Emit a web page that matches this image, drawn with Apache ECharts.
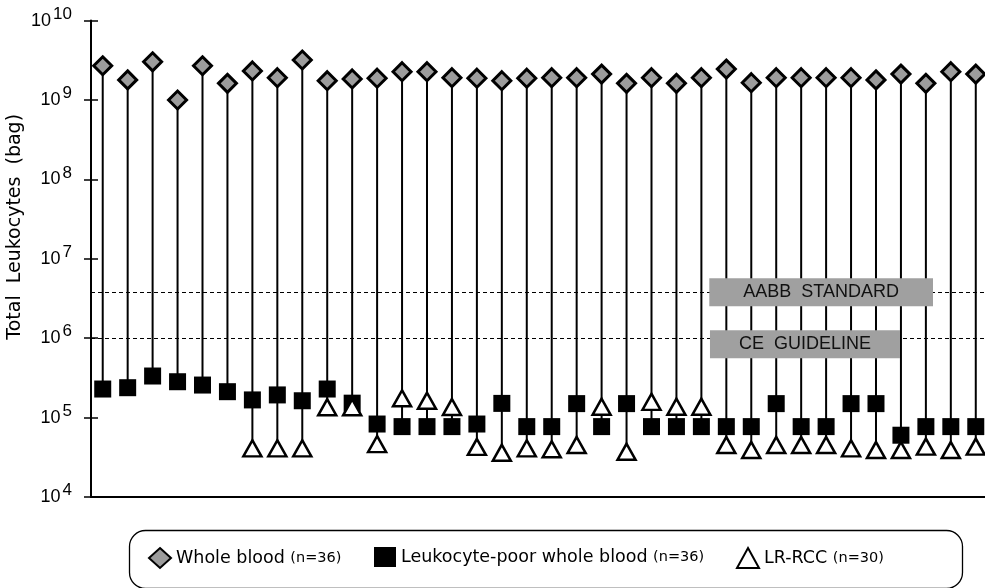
<!DOCTYPE html>
<html><head><meta charset="utf-8">
<script src="https://cdn.jsdelivr.net/npm/echarts@6/dist/echarts.min.js"></script>
<style>html,body{margin:0;padding:0;background:#fff}#c{width:985px;height:588px}</style>
</head><body><div id="c"></div>
<script>
// ---- data ----
const bags = [1,2,3,4,5,6,7,8,9,10,11,12,13,14,15,16,17,18,19,20,21,22,23,24,25,26,27,28,29,30,31,32,33,34,35,36];
const wholeBlood = [2.70e9,1.79e9,3.03e9,1.00e9,2.70e9,1.62e9,2.32e9,1.91e9,3.19e9,1.75e9,1.84e9,1.88e9,
  2.27e9,2.27e9,1.91e9,1.88e9,1.75e9,1.88e9,1.91e9,1.91e9,2.12e9,1.62e9,1.91e9,1.62e9,
  1.91e9,2.45e9,1.65e9,1.91e9,1.91e9,1.91e9,1.91e9,1.79e9,2.12e9,1.62e9,2.27e9,2.12e9];
const leukoPoor = [2.29e5,2.38e5,3.34e5,2.83e5,2.57e5,2.12e5,1.67e5,1.93e5,1.63e5,2.29e5,1.52e5,8.3e4,
  7.7e4,7.7e4,7.7e4,8.3e4,1.51e5,7.7e4,7.7e4,1.5e5,7.7e4,1.5e5,7.7e4,7.7e4,
  7.7e4,7.7e4,7.7e4,1.5e5,7.7e4,7.7e4,1.5e5,1.5e5,6.0e4,7.7e4,7.7e4,7.7e4];
const lrRcc = [null,null,null,null,null,null,4.1e4,4.1e4,4.1e4,1.35e5,1.35e5,4.64e4,
  1.75e5,1.63e5,1.36e5,4.27e4,3.61e4,4.1e4,3.99e4,4.52e4,1.37e5,3.72e4,1.58e5,1.37e5,
  1.37e5,4.52e4,3.91e4,4.52e4,4.52e4,4.52e4,4.1e4,3.91e4,3.91e4,4.31e4,3.91e4,4.31e4];
const seriesNames = ['Whole blood','Leukocyte-poor whole blood','LR-RCC'];
const seriesCounts = ['(n=36)','(n=36)','(n=30)'];
const limitNames = ['AABB  STANDARD','CE  GUIDELINE'];
const limitValues = [3.8e6, 1.0e6];
const yAxisTitle = 'Total  Leukocytes  (bag)';

// ---- chart ----
const stems = bags.map((b, i) => [b, wholeBlood[i], Math.min(leukoPoor[i], lrRcc[i] == null ? Infinity : lrRcc[i])]);
const pts = arr => bags.map((b, i) => [b, arr[i]]).filter(d => d[1] != null);

const FONT = '"Liberation Sans", Arial, sans-serif';
const WFONT = '"DejaVu Sans", sans-serif';
const chart = echarts.init(document.getElementById('c'), null, {renderer: 'canvas'});

const yCommon = {type: 'log', logBase: 10, min: 1e4, max: 1e10, position: 'left', splitLine: {show: false}};
const legendBase = (idx, left) => ({
  data: [seriesNames[idx]], left: left, top: 547, padding: 0,
  itemWidth: 22, itemHeight: 20, itemGap: 0, selectedMode: false,
  formatter: name => '{a|' + name + '} {b|' + seriesCounts[seriesNames.indexOf(name)] + '}',
  textStyle: {fontFamily: WFONT, fontSize: 17.5, color: '#000', rich: {
    a: {fontFamily: WFONT, fontSize: 17.5, color: '#000', lineHeight: 20},
    b: {fontFamily: WFONT, fontSize: 14.5, color: '#000', lineHeight: 20}
  }}
});

const option = {
  animation: false,
  backgroundColor: '#fff',
  grid: {left: 91, right: 0, top: 20.6, bottom: 91, outerBoundsMode: 'none', containLabel: false},
  xAxis: {type: 'value', min: 0.53, max: 36.37,
    axisLine: {show: true, lineStyle: {color: '#000', width: 2}},
    axisTick: {show: false}, axisLabel: {show: false}, splitLine: {show: false}},
  yAxis: [
    Object.assign({}, yCommon, {
      name: yAxisTitle, nameLocation: 'middle', nameGap: 66, nameRotate: 90, nameMoveOverlap: false,
      nameTextStyle: {fontFamily: WFONT, fontSize: 19, color: '#000', padding: [0, 0, 0, 64]},
      axisLine: {show: true, lineStyle: {color: '#000', width: 2}},
      axisTick: {show: true, length: 7, lineStyle: {color: '#000', width: 1.5}},
      axisLabel: {margin: 19, color: '#000', fontFamily: FONT, fontSize: 17,
        formatter: v => '{b|10}{s|' + Math.round(Math.log10(v)) + '}',
        rich: {
          b: {fontFamily: FONT, fontSize: 18, lineHeight: 18, color: '#000'},
          s: {fontFamily: FONT, fontSize: 17, lineHeight: 18, color: '#000', padding: [0, 0, 13, 2]}
        }}
    }),
    Object.assign({}, yCommon, {
      axisLine: {show: false, onZero: false},
      axisTick: {show: true, inside: true, length: 7, lineStyle: {color: '#000', width: 1.5}},
      axisLabel: {show: false}
    })
  ],
  legend: [legendBase(0, 148), legendBase(1, 374), legendBase(2, 736)],
  graphic: [{type: 'rect', left: 127, top: 528, shape: {width: 833, height: 58, r: 16},
    style: {fill: 'none', stroke: '#000', lineWidth: 1.3}, silent: true}],
  series: [
    {type: 'custom', name: 'stems', data: stems, encode: {x: 0, y: [1, 2]}, z: 1, silent: true,
      renderItem: (params, api) => {
        const p1 = api.coord([api.value(0), api.value(1)]);
        const p2 = api.coord([api.value(0), api.value(2)]);
        return {type: 'line', shape: {x1: p1[0], y1: p1[1], x2: p2[0], y2: p2[1]},
          style: {stroke: '#000', lineWidth: 2}};
      }},
    {type: 'scatter', name: seriesNames[0], data: pts(wholeBlood), symbol: 'diamond', symbolSize: 18, z: 3,
      itemStyle: {color: '#9c9c9c', borderColor: '#000', borderWidth: 3, opacity: 1}},
    {type: 'scatter', name: seriesNames[1], data: pts(leukoPoor), symbol: 'rect', symbolSize: 17, z: 4,
      itemStyle: {color: '#000', opacity: 1}},
    {type: 'scatter', name: seriesNames[2], data: pts(lrRcc), symbol: 'triangle', symbolSize: [18, 16], z: 5,
      itemStyle: {color: '#fff', borderColor: '#000', borderWidth: 2.5, opacity: 1},
      markLine: {silent: true, symbol: 'none', z: 6,
        lineStyle: {color: '#000', width: 1.2, type: [4, 3]},
        label: {show: true, formatter: '{b}', fontFamily: FONT, fontSize: 18,
          color: '#111', backgroundColor: '#a0a0a0'},
        data: [
          {name: limitNames[0], yAxis: limitValues[0], label: {position: 'insideEnd', distance: [52, 0], padding: [5, 34, 5, 34]}},
          {name: limitNames[1], yAxis: limitValues[1], label: {position: 'insideEndBottom', distance: [85, -8], padding: [5, 29, 5, 29]}}
        ]}}
  ]
};
chart.setOption(option);
</script></body></html>
